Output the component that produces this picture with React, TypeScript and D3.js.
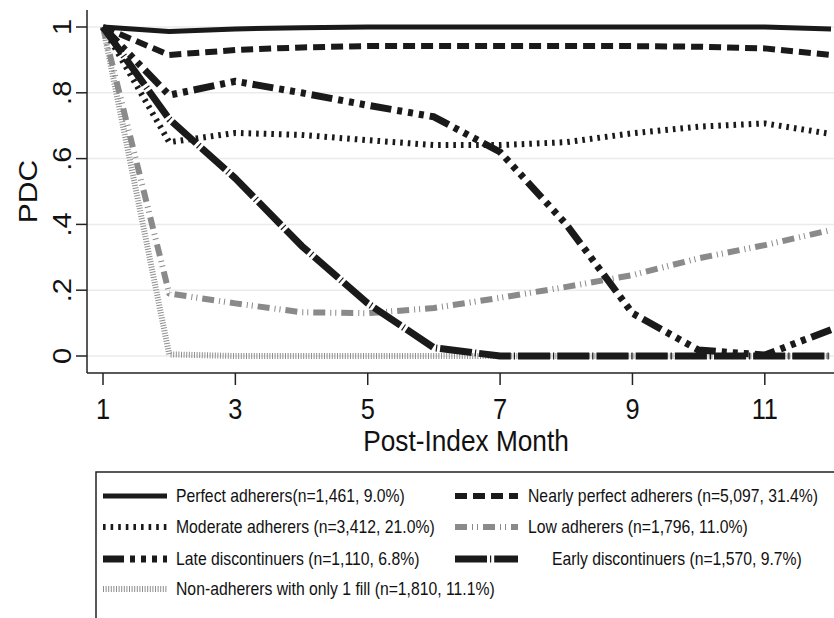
import React from 'react';
import * as d3 from 'd3';

// Post-index month and mean PDC per adherence group
const months = [1, 2, 3, 4, 5, 6, 7, 8, 9, 10, 11, 12];
const perfect = [1, 0.986, 0.994, 0.998, 1, 1, 1, 1, 1, 1, 1, 0.994];
const nearly = [1, 0.915, 0.93, 0.938, 0.942, 0.942, 0.942, 0.942, 0.942, 0.94, 0.935, 0.915];
const moderate = [1, 0.65, 0.678, 0.672, 0.656, 0.641, 0.641, 0.65, 0.677, 0.697, 0.707, 0.675];
const low = [1, 0.19, 0.16, 0.133, 0.13, 0.146, 0.177, 0.21, 0.246, 0.297, 0.337, 0.383];
const late = [1, 0.793, 0.835, 0.8, 0.762, 0.727, 0.62, 0.4, 0.13, 0.018, 0.003, 0.08];
const early = [1, 0.72, 0.54, 0.335, 0.16, 0.025, 0, 0, 0, 0, 0, 0];
const nonAdherers = [1, 0.005, 0, 0, 0, 0, 0, 0, 0, 0, 0, 0];

const xTicks = [1, 3, 5, 7, 9, 11];
const yTicks = [0, 0.2, 0.4, 0.6, 0.8, 1];
const yTickLabels = ['0', '.2', '.4', '.6', '.8', '1'];

const labels = {
  perfect: 'Perfect adherers(n=1,461, 9.0%)',
  nearly: 'Nearly perfect adherers (n=5,097, 31.4%)',
  moderate: 'Moderate adherers (n=3,412, 21.0%)',
  low: 'Low adherers (n=1,796, 11.0%)',
  late: 'Late discontinuers (n=1,110, 6.8%)',
  early: 'Early discontinuers (n=1,570, 9.7%)',
  nonAdherers: 'Non-adherers with only 1 fill (n=1,810, 11.1%)',
};

const FONT = 'Liberation Sans, Arial, Helvetica, sans-serif';
const SQUEEZE = 0.875;

type Style = { color: string; width: number; dash: string };

const styles: Record<string, Style> = {
  nonAdherers: { color: '#8e8e8e', width: 6, dash: '1,1.6' },
  perfect: { color: '#1a1a1a', width: 5, dash: '' },
  nearly: { color: '#1a1a1a', width: 6, dash: '12,6' },
  moderate: { color: '#1a1a1a', width: 6, dash: '2.6,5' },
  low: { color: '#8a8a8a', width: 6, dash: '12,5,1,4,1,5' },
  late: { color: '#1a1a1a', width: 7, dash: '21,6,5,6,5,6,5,6' },
  early: { color: '#1a1a1a', width: 7, dash: '32,3,1.2,3' },
};

export default function App() {
  const width = 834;
  const height = 618;

  const x = d3.scaleLinear().domain([1, 12]).range([103, 831]);
  const y = d3.scaleLinear().domain([0, 1]).range([356, 27]);

  const plotLeft = 87;
  const plotTop = 10;
  const axisY = 373;

  const line = d3
    .line<number>()
    .x((d, i) => x(months[i]))
    .y(d => y(d));

  const series: [string, number[]][] = [
    ['nonAdherers', nonAdherers],
    ['perfect', perfect],
    ['nearly', nearly],
    ['moderate', moderate],
    ['low', low],
    ['late', late],
    ['early', early],
  ];

  // legend layout: two columns, four rows
  const legendRows = [496, 527, 559, 589];
  const legendItems: { key: string; col: number; row: number; textX?: number }[] = [
    { key: 'perfect', col: 0, row: 0 },
    { key: 'nearly', col: 1, row: 0 },
    { key: 'moderate', col: 0, row: 1 },
    { key: 'low', col: 1, row: 1 },
    { key: 'late', col: 0, row: 2 },
    { key: 'early', col: 1, row: 2, textX: 552 },
    { key: 'nonAdherers', col: 0, row: 3 },
  ];
  const colSample = [
    [103, 167],
    [455, 518],
  ];
  const colText = [176, 528];

  return (
    <svg
      width={width}
      height={height}
      style={{ position: 'absolute', left: 0, top: 0, background: '#fff' }}
      fontFamily={FONT}
    >
      <rect width={width} height={height} fill="#fff" />

      {/* gridlines */}
      {yTicks.map(t => (
        <line key={'g' + t} x1={plotLeft} x2={width} y1={y(t)} y2={y(t)} stroke="#ebebeb" strokeWidth={1.5} />
      ))}

      {/* series */}
      {series.map(([key, vals]) => (
        <path
          key={key}
          d={line(vals) || ''}
          fill="none"
          stroke={styles[key].color}
          strokeWidth={styles[key].width}
          strokeDasharray={styles[key].dash || undefined}
          strokeLinejoin="round"
        />
      ))}

      {/* y axis */}
      <line x1={plotLeft} x2={plotLeft} y1={plotTop} y2={axisY} stroke="#222" strokeWidth={1.5} />
      {yTicks.map((t, i) => (
        <g key={'y' + t}>
          <line x1={plotLeft - 11} x2={plotLeft} y1={y(t)} y2={y(t)} stroke="#222" strokeWidth={1.5} />
          <text
            transform={`translate(71,${y(t)}) scale(${SQUEEZE},1) rotate(-90)`}
            textAnchor="middle"
            fontSize={29}
            fill="#111"
          >
            {yTickLabels[i]}
          </text>
        </g>
      ))}
      <text
        transform={`translate(37,${y(0.5)}) scale(${SQUEEZE},1) rotate(-90)`}
        textAnchor="middle"
        fontSize={30}
        fill="#111"
      >
        PDC
      </text>

      {/* x axis */}
      <line x1={plotLeft} x2={width} y1={axisY} y2={axisY} stroke="#222" strokeWidth={1.5} />
      {xTicks.map(t => (
        <g key={'x' + t}>
          <line x1={x(t)} x2={x(t)} y1={axisY} y2={axisY + 12} stroke="#222" strokeWidth={1.5} />
          <text
            transform={`translate(${x(t)},419) scale(${SQUEEZE},1)`}
            textAnchor="middle"
            fontSize={29}
            fill="#111"
          >
            {t}
          </text>
        </g>
      ))}
      <text transform={`translate(466,451) scale(${SQUEEZE},1)`} textAnchor="middle" fontSize={30} fill="#111">
        Post-Index Month
      </text>

      {/* legend */}
      <rect x={96} y={472} width={760} height={170} fill="none" stroke="#222" strokeWidth={1.5} />
      {legendItems.map(it => {
        const st = styles[it.key];
        const yy = legendRows[it.row];
        const [sx1, sx2] = colSample[it.col];
        return (
          <g key={'l' + it.key}>
            <line
              x1={sx1}
              x2={sx2}
              y1={yy}
              y2={yy}
              stroke={st.color}
              strokeWidth={st.width}
              strokeDasharray={st.dash || undefined}
            />
            <text
              transform={`translate(${it.textX ?? colText[it.col]},${yy}) scale(${SQUEEZE},1)`}
              dominantBaseline="central"
              fontSize={18}
              fill="#111"
            >
              {labels[it.key as keyof typeof labels]}
            </text>
          </g>
        );
      })}
    </svg>
  );
}
